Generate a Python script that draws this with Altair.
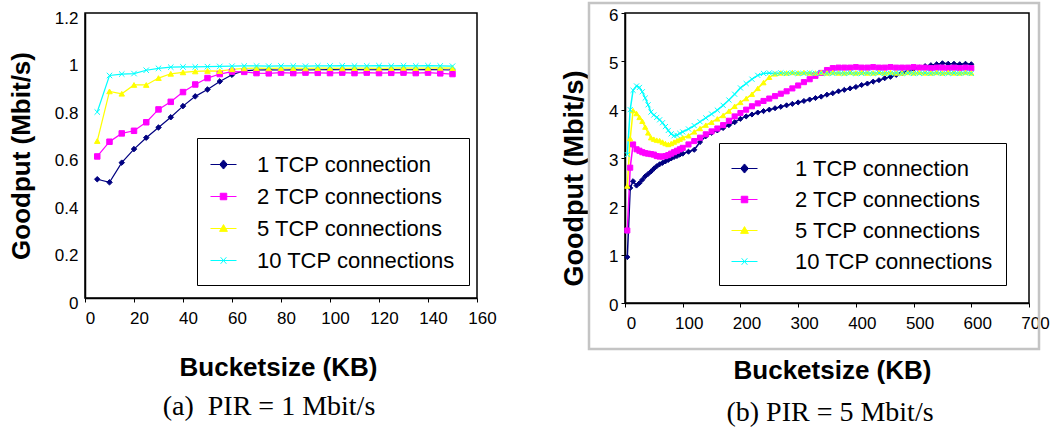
import altair as alt
import pandas as pd

SERIES = ["1 TCP connection", "2 TCP connections", "5 TCP connections", "10 TCP connections"]
COLORS = ["#000080", "#ff00ff", "#ffff00", "#00ffff"]
MARKERS = ["diamond", "square", "triangle-up", "M-1,-1L1,1M-1,1L1,-1"]
LEGEND_SYMBOLS = [
    "M-1,0L1,0M0,-0.35L0.3,0L0,0.35L-0.3,0Z",
    "M-1,0L1,0M-0.25,-0.25L0.25,-0.25L0.25,0.25L-0.25,0.25Z",
    "M-1,0L1,0M0,-0.3L0.3,0.22L-0.3,0.22Z",
    "M-1,0L1,0M-0.22,-0.25L0.22,0.25M-0.22,0.25L0.22,-0.25",
]

# ---- (a) PIR = 1 Mbit/s ----
a_x = [5, 10, 15, 20, 25, 30, 35, 40, 45, 50, 55, 60, 65, 70, 75, 80, 85, 90, 95, 100,
       105, 110, 115, 120, 125, 130, 135, 140, 145, 150]
a_1 = [0.500, 0.487, 0.570, 0.627, 0.675, 0.718, 0.761, 0.808, 0.849, 0.878, 0.912, 0.940,
       0.957, 0.960, 0.961, 0.960, 0.961, 0.960, 0.961, 0.962, 0.961, 0.962, 0.961, 0.961,
       0.962, 0.961, 0.961, 0.962, 0.961, 0.960]
a_2 = [0.596, 0.658, 0.693, 0.704, 0.740, 0.794, 0.826, 0.867, 0.899, 0.926, 0.943, 0.953,
       0.952, 0.947, 0.946, 0.949, 0.947, 0.949, 0.948, 0.947, 0.949, 0.947, 0.949, 0.947,
       0.948, 0.949, 0.947, 0.949, 0.946, 0.943]
a_5 = [0.661, 0.870, 0.860, 0.897, 0.897, 0.926, 0.944, 0.950, 0.954, 0.956, 0.955, 0.963,
       0.967, 0.968, 0.967, 0.968, 0.968, 0.967, 0.968, 0.968, 0.967, 0.968, 0.968, 0.967,
       0.968, 0.969, 0.968, 0.968, 0.969, 0.968]
a_10 = [0.783, 0.937, 0.943, 0.945, 0.959, 0.967, 0.972, 0.973, 0.973, 0.974, 0.975, 0.976,
        0.977, 0.977, 0.976, 0.977, 0.977, 0.976, 0.977, 0.977, 0.978, 0.977, 0.977, 0.978,
        0.977, 0.978, 0.977, 0.978, 0.977, 0.976]
a_xticks = [0, 20, 40, 60, 80, 100, 120, 140, 160]
a_yticks = [0, 0.2, 0.4, 0.6, 0.8, 1.0, 1.2]

# ---- (b) PIR = 5 Mbit/s ----
b_x = [4, 9, 14, 20, 25, 30, 35, 40, 45, 50, 55, 60, 65, 70, 75, 80, 85, 90, 95, 100,
       110, 120, 130, 140, 150, 160, 170, 180, 190, 200,
       210, 220, 230, 240, 250, 260, 270, 280, 290, 300,
       310, 320, 330, 340, 350, 360, 370, 380, 390, 400,
       410, 420, 430, 440, 450, 460, 470, 480, 490, 500,
       510, 520, 530, 540, 550, 560, 570, 580, 590, 600]
b_1 = [0.95, 2.38, 2.52, 2.43, 2.48, 2.55, 2.62, 2.67, 2.72, 2.78, 2.83, 2.87, 2.90, 2.93, 2.96, 2.99, 3.02, 3.04, 3.07, 3.09,
       3.13, 3.17, 3.33, 3.45, 3.52, 3.57, 3.62, 3.68, 3.74, 3.81,
       3.86, 3.90, 3.94, 3.97, 4.00, 4.03, 4.06, 4.09, 4.12, 4.15,
       4.18, 4.21, 4.24, 4.27, 4.31, 4.34, 4.38, 4.41, 4.44, 4.47,
       4.51, 4.54, 4.58, 4.61, 4.65, 4.68, 4.72, 4.76, 4.80, 4.84,
       4.87, 4.90, 4.92, 4.94, 4.96, 4.95, 4.95, 4.94, 4.95, 4.94]
b_2 = [1.50, 2.80, 3.28, 3.18, 3.15, 3.12, 3.10, 3.09, 3.08, 3.07, 3.04, 3.03, 3.03, 3.04, 3.06, 3.09, 3.12, 3.15, 3.18, 3.21,
       3.28, 3.35, 3.42, 3.49, 3.55, 3.61, 3.68, 3.77, 3.86, 3.93,
       4.00, 4.07, 4.13, 4.18, 4.23, 4.28, 4.33, 4.38, 4.44, 4.50,
       4.57, 4.63, 4.70, 4.76, 4.82, 4.86, 4.87, 4.87, 4.87, 4.88,
       4.87, 4.87, 4.88, 4.87, 4.87, 4.88, 4.87, 4.87, 4.87, 4.88,
       4.87, 4.87, 4.86, 4.87, 4.87, 4.86, 4.87, 4.86, 4.87, 4.86]
b_5 = [2.42, 3.40, 3.98, 3.92, 3.84, 3.76, 3.64, 3.52, 3.42, 3.39, 3.37, 3.36, 3.33, 3.30, 3.28, 3.30, 3.33, 3.36, 3.39, 3.42,
       3.46, 3.54, 3.61, 3.68, 3.74, 3.81, 3.88, 3.97, 4.07, 4.15,
       4.23, 4.32, 4.44, 4.56, 4.67, 4.74, 4.76, 4.76, 4.77, 4.76,
       4.77, 4.76, 4.76, 4.77, 4.76, 4.77, 4.76, 4.76, 4.77, 4.76,
       4.77, 4.76, 4.76, 4.77, 4.76, 4.77, 4.76, 4.76, 4.77, 4.76,
       4.77, 4.76, 4.76, 4.77, 4.76, 4.77, 4.76, 4.76, 4.77, 4.76]
b_10 = [3.07, 4.00, 4.40, 4.49, 4.46, 4.37, 4.24, 4.10, 3.95, 3.89, 3.84, 3.79, 3.73, 3.65, 3.57, 3.50, 3.46, 3.47, 3.51, 3.54,
        3.60, 3.67, 3.75, 3.83, 3.91, 3.99, 4.09, 4.20, 4.32, 4.45,
        4.54, 4.63, 4.71, 4.75, 4.76, 4.75, 4.76, 4.75, 4.76, 4.75,
        4.75, 4.76, 4.75, 4.76, 4.75, 4.75, 4.76, 4.75, 4.76, 4.75,
        4.75, 4.76, 4.75, 4.76, 4.75, 4.75, 4.76, 4.75, 4.76, 4.75,
        4.75, 4.76, 4.75, 4.76, 4.75, 4.75, 4.76, 4.75, 4.76, 4.75]
b_xticks = [0, 100, 200, 300, 400, 500, 600, 700]
b_yticks = [0, 1, 2, 3, 4, 5, 6]

SANS = "Liberation Sans"
SERIF = "Liberation Serif"


def build_df(xs, series_values):
    rows = []
    for name, ys in zip(SERIES, series_values):
        for xv, yv in zip(xs, ys):
            rows.append({"x": xv, "y": yv, "series": name})
    return pd.DataFrame(rows)


def panel(df, xdom, ydom, xticks, yticks, w, h, xaxis_kw, yaxis_kw, legend_kw,
          msize, lw, caption, cap_kw, frame=None):
    xaxis = alt.Axis(values=xticks, title="Bucketsize (KB)", titleFont=SANS,
                     titleFontWeight="bold", titleFontSize=26, titleColor="black",
                     labelFont=SANS, labelFontSize=17, labelColor="black",
                     labelFlush=False, labelOverlap=False, tickColor="black",
                     tickSize=4, domainColor="black", domainWidth=1.5, grid=False,
                     labelPadding=8, **xaxis_kw)
    yaxis = alt.Axis(values=yticks, format="~g", title="Goodput (Mbit/s)",
                     titleFont=SANS, titleFontWeight="bold", titleColor="black",
                     labelFont=SANS, labelFontSize=17, labelColor="black",
                     labelFlush=False, labelOverlap=False, tickColor="black",
                     domainColor="black", domainWidth=1.5, grid=False, **yaxis_kw)
    X = alt.X("x:Q", scale=alt.Scale(domain=xdom, nice=False, zero=False), axis=xaxis)
    Y = alt.Y("y:Q", scale=alt.Scale(domain=ydom, nice=False), axis=yaxis)
    cscale = alt.Scale(domain=SERIES, range=COLORS)

    lines = alt.Chart(df).mark_line(strokeWidth=lw).encode(
        x=X, y=Y,
        color=alt.Color("series:N", scale=cscale, legend=None),
    )
    points = alt.Chart(df).mark_point(filled=True, opacity=1, size=msize, strokeWidth=1).encode(
        x=X, y=Y,
        color=alt.Color("series:N", scale=cscale, legend=None),
        stroke=alt.Stroke("series:N", scale=cscale, legend=None),
        shape=alt.Shape("series:N", scale=alt.Scale(domain=SERIES, range=MARKERS), legend=None),
    )
    leg = alt.Legend(orient="none", title=None, strokeColor="black", fillColor="white",
                     labelFont=SANS, labelFontSize=22, labelColor="black", labelLimit=400,
                     symbolSize=676, symbolStrokeWidth=1, symbolOpacity=1, **legend_kw)
    legend_layer = alt.Chart(df).transform_filter("false").mark_point(
        filled=True, opacity=1, strokeWidth=1).encode(
        color=alt.Color("series:N", scale=cscale, legend=leg),
        stroke=alt.Stroke("series:N", scale=cscale, legend=leg),
        shape=alt.Shape("series:N", scale=alt.Scale(domain=SERIES, range=LEGEND_SYMBOLS), legend=leg),
    )
    layers = []
    if frame is not None:
        fdf = pd.DataFrame({"k": [0]})
        layers.append(alt.Chart(fdf).mark_rect(filled=False, stroke="#c4c4c4", strokeWidth=2.5).encode(
            x=alt.value(frame[0]), x2=alt.value(frame[1]),
            y=alt.value(frame[2]), y2=alt.value(frame[3])))
    layers += [lines, points, legend_layer]
    return alt.layer(*layers).resolve_scale(
        color="independent", stroke="independent", shape="independent"
    ).properties(
        width=w, height=h,
        title=alt.TitleParams(text=caption, orient="bottom", font=SERIF, fontSize=28,
                              fontWeight="normal", color="black", frame="group",
                              anchor="middle", baseline="top", **cap_kw),
    )


df_a = build_df(a_x, [a_1, a_2, a_5, a_10])
df_b = build_df(b_x, [b_1, b_2, b_5, b_10])

left = panel(df_a, [0, 160], [0, 1.2], a_xticks, a_yticks, 392, 285,
             dict(labelOffset=5, titleX=193, titleY=56),
             dict(labelOffset=5, labelPadding=7, tickSize=0, titleX=-51, titleFontSize=26),
             dict(legendX=112, legendY=125, padding=13, labelOffset=20, rowPadding=7),
             30, 1.2, "(a)\u00a0\u00a0PIR = 1 Mbit/s", dict(offset=13, dx=-12))

right = panel(df_b, [0, 700], [0, 6], b_xticks, b_yticks, 404, 290,
              dict(labelOffset=6, titleX=207, titleY=54),
              dict(labelOffset=2, labelPadding=3, tickSize=4, titleX=-37, titleY=165, titleFontSize=27),
              dict(legendX=94, legendY=130, padding=12, labelOffset=37, rowPadding=6),
              26, 1.5, "(b) PIR = 5 Mbit/s", dict(offset=16, dx=3),
              frame=(-36, 414, -10, 336))

chart = alt.hconcat(left, right, spacing=148, bounds="flush").resolve_scale(
    x="independent", y="independent", color="independent", stroke="independent", shape="independent"
).resolve_legend(
    color="independent", stroke="independent", shape="independent"
).configure_view(stroke="black", strokeWidth=1.5).properties(
    padding={"left": 7, "top": 1, "right": 2, "bottom": 2}
)

chart.save("out.html", embed_options={"renderer": "svg", "actions": False})
